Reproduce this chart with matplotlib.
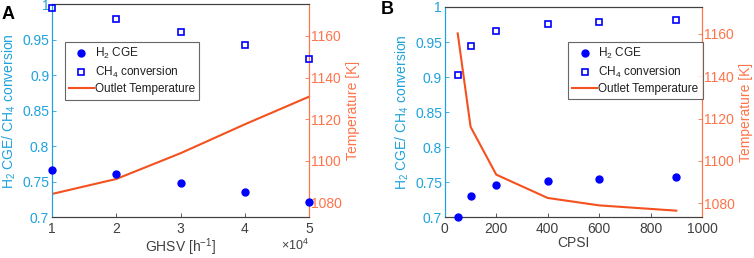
import matplotlib
matplotlib.use('Agg')
import matplotlib.pyplot as plt
from matplotlib.ticker import FixedLocator

# ============================================================
# DATA
# ============================================================
ghsv = [1, 2, 3, 4, 5]                      # x 10^4 h^-1
ghsv_h2_cge = [0.766, 0.761, 0.748, 0.735, 0.721]
ghsv_ch4_conv = [0.995, 0.979, 0.961, 0.942, 0.923]
ghsv_temp = [1084.0, 1091.2, 1103.6, 1117.5, 1130.8]

cpsi = [50, 100, 200, 400, 600, 900]
cpsi_h2_cge = [0.701, 0.731, 0.746, 0.752, 0.755, 0.757]
cpsi_ch4_conv = [0.903, 0.945, 0.966, 0.976, 0.979, 0.981]
cpsi_temp = [1160.2, 1116.1, 1093.5, 1082.5, 1079.0, 1076.5]

LEGEND_LABELS = ['H$_2$ CGE', 'CH$_4$ conversion', 'Outlet Temperature']

# ============================================================
# STYLE
# ============================================================
plt.rcParams.update({
    'font.family': ['Liberation Sans', 'DejaVu Sans'],
    'font.size': 10,
    'mathtext.fontset': 'custom',
    'mathtext.rm': 'Liberation Sans',
    'mathtext.it': 'Liberation Sans',
    'figure.facecolor': 'white',
})

LEFT_C = '#1fa2dc'
RIGHT_C = '#ff7349'
LINE_C = '#f4511e'
MARK_C = '#0000ff'
GRAY = '#404040'

fig = plt.figure(figsize=(7.54, 2.58), dpi=100)


def make_panel(rect, x, h2, ch4, temp, xlim, xticks, xlabel, tlim, loc_box):
    ax = fig.add_axes(rect)
    ax2 = ax.twinx()

    h_h2, = ax.plot(x, h2, 'o', color=MARK_C, ms=5, clip_on=False, zorder=5)
    h_ch4, = ax.plot(x, ch4, 's', mfc='none', mec=MARK_C, mew=1.2, ms=5,
                     clip_on=False, zorder=5)
    h_t, = ax2.plot(x, temp, '-', color=LINE_C, lw=1.5)

    ax.set_xlim(*xlim)
    ax.set_ylim(0.7, 1.0)
    ax.yaxis.set_major_locator(FixedLocator([0.7, 0.75, 0.8, 0.85, 0.9, 0.95, 1.0]))
    ax.set_yticklabels(['0.7', '0.75', '0.8', '0.85', '0.9', '0.95', '1'])
    ax.set_xticks(xticks)
    ax2.set_ylim(*tlim)
    ax2.set_yticks([1080, 1100, 1120, 1140, 1160])

    for a in (ax, ax2):
        a.tick_params(direction='in', length=3, width=0.6, labelsize=10)
        a.spines['top'].set_color(GRAY)
        a.spines['bottom'].set_color(GRAY)
        a.spines['left'].set_color(LEFT_C)
        a.spines['right'].set_color(RIGHT_C)
        for s in a.spines.values():
            s.set_linewidth(0.8)
    ax.tick_params(axis='x', colors=GRAY, pad=3.5)
    ax.tick_params(axis='y', colors=LEFT_C, pad=2)
    ax2.tick_params(axis='y', colors=RIGHT_C, pad=1.5)
    ax.set_zorder(ax2.get_zorder() + 1)
    ax.patch.set_visible(False)

    ax.set_xlabel(xlabel, color=GRAY, fontsize=10, labelpad=0)
    ax.set_ylabel('H$_2$ CGE/ CH$_4$ conversion', color=LEFT_C, fontsize=10, labelpad=3)
    ax2.set_ylabel('Temperature [K]', color=RIGHT_C, fontsize=10, labelpad=3)

    leg = ax.legend([h_h2, h_ch4, h_t], LEGEND_LABELS,
                    loc='upper left', bbox_to_anchor=loc_box, borderaxespad=0,
                    fontsize=8.5, frameon=True, fancybox=False, edgecolor=GRAY,
                    handlelength=2.1, handletextpad=0.1, borderpad=0.35,
                    labelspacing=0.3)
    leg.get_frame().set_linewidth(0.8)
    for t in leg.get_texts():
        t.set_color('#202020')
    return ax


axA = make_panel([0.069, 0.158, 0.341, 0.826], ghsv, ghsv_h2_cge, ghsv_ch4_conv,
                 ghsv_temp, (1, 5), [1, 2, 3, 4, 5], 'GHSV [h$^{-1}$]',
                 (1072.8, 1175.3), (0.05, 0.822))
axA.text(1.0, -0.095, r'$\times$10$^4$', transform=axA.transAxes, ha='right',
         va='top', color=GRAY, fontsize=9)

axB = make_panel([0.590, 0.158, 0.341, 0.815], cpsi, cpsi_h2_cge, cpsi_ch4_conv,
                 cpsi_temp, (0, 1000), [0, 200, 400, 600, 800, 1000], 'CPSI',
                 (1073.4, 1172.7), (0.48, 0.834))

fig.text(0.002, 0.975, 'A', fontsize=13, fontweight='bold', ha='left', va='top')
fig.text(0.505, 0.995, 'B', fontsize=13, fontweight='bold', ha='left', va='top')

fig.savefig('out.png', dpi=100, facecolor='white')
plt.close(fig)
print('Saved: out.png')
